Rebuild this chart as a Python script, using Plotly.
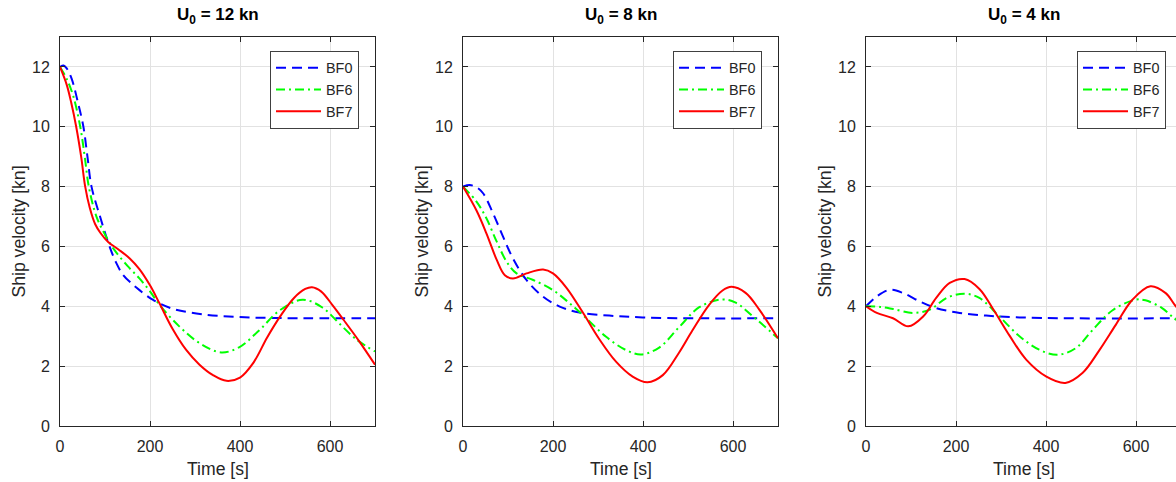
import plotly.graph_objects as go

# ---------------- data ----------------
# U0 = 12 kn
t12_bf0 = [0, 8, 15, 26, 40, 52, 61, 70, 89, 110, 125, 140, 160, 176, 206, 250, 324, 398, 472, 550, 700]
v12_bf0 = [12.0, 12.05, 11.95, 11.6, 10.8, 10.0, 9.0, 8.0, 7.0, 6.0, 5.45, 5.05, 4.75, 4.55, 4.22, 3.92, 3.72, 3.64, 3.61, 3.6, 3.6]
t12_bf6 = [0, 15, 30, 45, 55, 64, 81, 100, 120, 150, 176, 200, 221, 265, 310, 358, 398, 443, 487, 539, 583, 621, 658, 700]
v12_bf6 = [12.0, 11.6, 11.0, 10.0, 9.0, 8.0, 7.0, 6.4, 5.9, 5.35, 4.94, 4.5, 4.05, 3.33, 2.77, 2.46, 2.63, 3.2, 3.85, 4.22, 3.96, 3.42, 2.9, 2.49]
t12_bf7 = [0, 15, 25, 36, 47, 56, 66, 78, 90, 107, 130, 155, 176, 200, 221, 250, 280, 310, 340, 370, 400, 430, 460, 490, 520, 545, 560, 580, 605, 630, 665, 700]
v12_bf7 = [12.0, 11.4, 10.8, 10.0, 9.0, 8.0, 7.3, 6.75, 6.45, 6.15, 5.9, 5.6, 5.25, 4.7, 4.1, 3.25, 2.55, 2.05, 1.7, 1.51, 1.62, 2.12, 2.95, 3.68, 4.28, 4.58, 4.64, 4.5, 4.05, 3.55, 2.83, 2.05]

# U0 = 8 kn
t8_bf0 = [0, 15, 30, 45, 67, 89, 111, 141, 178, 215, 259, 325, 399, 510, 700]
v8_bf0 = [8.0, 8.05, 7.98, 7.77, 7.1, 6.33, 5.6, 4.88, 4.32, 3.99, 3.79, 3.69, 3.63, 3.6, 3.6]
t8_bf6 = [0, 30, 52, 75, 97, 119, 156, 200, 237, 274, 318, 362, 396, 436, 480, 525, 576, 606, 643, 700]
v8_bf6 = [8.0, 7.5, 6.94, 6.16, 5.49, 5.1, 4.88, 4.54, 4.1, 3.6, 2.98, 2.54, 2.39, 2.62, 3.3, 3.97, 4.23, 4.12, 3.68, 2.93]
t8_bf7 = [0, 30, 52, 75, 93, 111, 141, 178, 200, 230, 266, 303, 340, 377, 410, 444, 480, 510, 547, 576, 597, 628, 658, 700]
v8_bf7 = [8.0, 7.2, 6.44, 5.55, 5.04, 4.93, 5.1, 5.23, 5.1, 4.62, 3.8, 2.9, 2.15, 1.65, 1.46, 1.7, 2.45, 3.2, 4.05, 4.52, 4.65, 4.45, 3.9, 2.93]

# U0 = 4 kn
t4_bf0 = [0, 24, 53, 83, 120, 156, 208, 267, 341, 450, 700]
v4_bf0 = [4.0, 4.33, 4.55, 4.44, 4.16, 3.94, 3.78, 3.69, 3.63, 3.6, 3.6]
t4_bf6 = [0, 31, 60, 105, 142, 179, 219, 252, 297, 341, 385, 426, 466, 503, 548, 599, 621, 658, 684, 700]
v4_bf6 = [4.0, 3.98, 3.91, 3.78, 3.89, 4.28, 4.42, 4.28, 3.65, 3.0, 2.55, 2.38, 2.6, 3.2, 3.87, 4.22, 4.2, 3.94, 3.61, 3.45]
t4_bf7 = [0, 24, 60, 94, 127, 156, 186, 219, 252, 282, 319, 356, 400, 443, 481, 518, 555, 592, 632, 666, 686, 700]
v4_bf7 = [4.0, 3.78, 3.6, 3.33, 3.66, 4.28, 4.78, 4.91, 4.58, 3.92, 3.02, 2.22, 1.66, 1.44, 1.77, 2.52, 3.38, 4.22, 4.67, 4.44, 4.05, 3.8]

titles = ["U<sub>0</sub> = 12 kn", "U<sub>0</sub> = 8 kn", "U<sub>0</sub> = 4 kn"]
series_names = ["BF0", "BF6", "BF7"]
x_ticks = [0, 200, 400, 600]
y_ticks = [0, 2, 4, 6, 8, 10, 12]

panels = [
    [(t12_bf0, v12_bf0), (t12_bf6, v12_bf6), (t12_bf7, v12_bf7)],
    [(t8_bf0, v8_bf0), (t8_bf6, v8_bf6), (t8_bf7, v8_bf7)],
    [(t4_bf0, v4_bf0), (t4_bf6, v4_bf6), (t4_bf7, v4_bf7)],
]

# ---------------- styling ----------------
W, H = 1176, 482
FONT = "Liberation Sans, Arial, Helvetica, sans-serif"
INK = "#262626"
colors = ["#0000ff", "#00ff00", "#ff0000"]
dashes = ["10px,6px", "9px,4px,2px,4px", "solid"]

# plot-area geometry in window pixels
left_px = [60, 463, 866]
plot_w = 315
top_px, bot_px = 37, 426

def px(x):
    return x / W

def py(y):
    return 1 - y / H

fig = go.Figure()

for i, series in enumerate(panels):
    sfx = "" if i == 0 else str(i + 1)
    leg = "legend" if i == 0 else f"legend{i + 1}"
    for j, (tt, vv) in enumerate(series):
        fig.add_trace(go.Scatter(
            x=tt, y=vv, mode="lines", name=series_names[j],
            line=dict(color=colors[j], width=2, dash=dashes[j], shape="spline", smoothing=1.0),
            xaxis="x" + sfx, yaxis="y" + sfx, legend=leg, showlegend=True,
            hoverinfo="skip",
        ))

layout = dict(
    width=W, height=H,
    margin=dict(l=0, r=0, t=0, b=0, autoexpand=False),
    paper_bgcolor="white", plot_bgcolor="white",
    font=dict(family=FONT, color=INK, size=16),
)

annotations = []
for i in range(3):
    sfx = "" if i == 0 else str(i + 1)
    x0 = left_px[i]
    x1 = min(x0 + plot_w, W)
    xmax = 700 * (x1 - x0) / plot_w
    axx = dict(
        domain=[px(x0), px(x1)], range=[0, xmax], tickvals=x_ticks,
        showgrid=True, gridcolor="#e2e2e2", gridwidth=1,
        showline=True, linecolor=INK, linewidth=1,
        mirror="ticks",
        ticks="inside", ticklen=5, tickcolor=INK, tickwidth=1,
        tickfont=dict(size=16, color=INK, family=FONT),
        zeroline=False, anchor="y" + sfx, fixedrange=True,
        automargin=False, ticklabelstandoff=6,
    )
    axy = dict(
        domain=[py(bot_px), py(top_px)], range=[0, 13], tickvals=y_ticks,
        showgrid=True, gridcolor="#e2e2e2", gridwidth=1,
        showline=True, linecolor=INK, linewidth=1,
        mirror="ticks" if i < 2 else False,
        ticks="inside", ticklen=5, tickcolor=INK, tickwidth=1,
        tickfont=dict(size=16, color=INK, family=FONT),
        zeroline=False, anchor="x" + sfx, fixedrange=True,
        automargin=False, ticklabelstandoff=6,
    )
    layout["xaxis" + sfx] = axx
    layout["yaxis" + sfx] = axy

    cx = x0 + plot_w / 2
    annotations.append(dict(text="<b>" + titles[i] + "</b>", x=px(cx), y=py(16.5),
                            xref="paper", yref="paper", xanchor="center", yanchor="middle",
                            showarrow=False, font=dict(size=17, color="black", family=FONT)))
    annotations.append(dict(text="Time [s]", x=px(cx), y=py(469),
                            xref="paper", yref="paper", xanchor="center", yanchor="middle",
                            showarrow=False, font=dict(size=17.6, color=INK, family=FONT)))
    annotations.append(dict(text="Ship velocity [kn]", x=px(x0 - 42), y=py((top_px + bot_px) / 2),
                            xref="paper", yref="paper", xanchor="center", yanchor="middle",
                            textangle=-90,
                            showarrow=False, font=dict(size=17.6, color=INK, family=FONT)))

    leg = dict(
        x=px(x0 + 299 if i < 2 else 1166), y=py(51), xanchor="right", yanchor="top",
        xref="paper", yref="paper",
        bgcolor="white", bordercolor="#404040", borderwidth=1,
        font=dict(size=14.4, color=INK, family=FONT),
        itemwidth=45, tracegroupgap=0, itemclick=False, itemdoubleclick=False,
    )
    layout["legend" if i == 0 else f"legend{i + 1}"] = leg

layout["annotations"] = annotations
fig.update_layout(**layout)

fig.write_html(
    "out.html",
    config={"displayModeBar": False, "staticPlot": True},
    post_script="document.body.style.margin='0px';document.body.style.overflow='hidden';",
)
